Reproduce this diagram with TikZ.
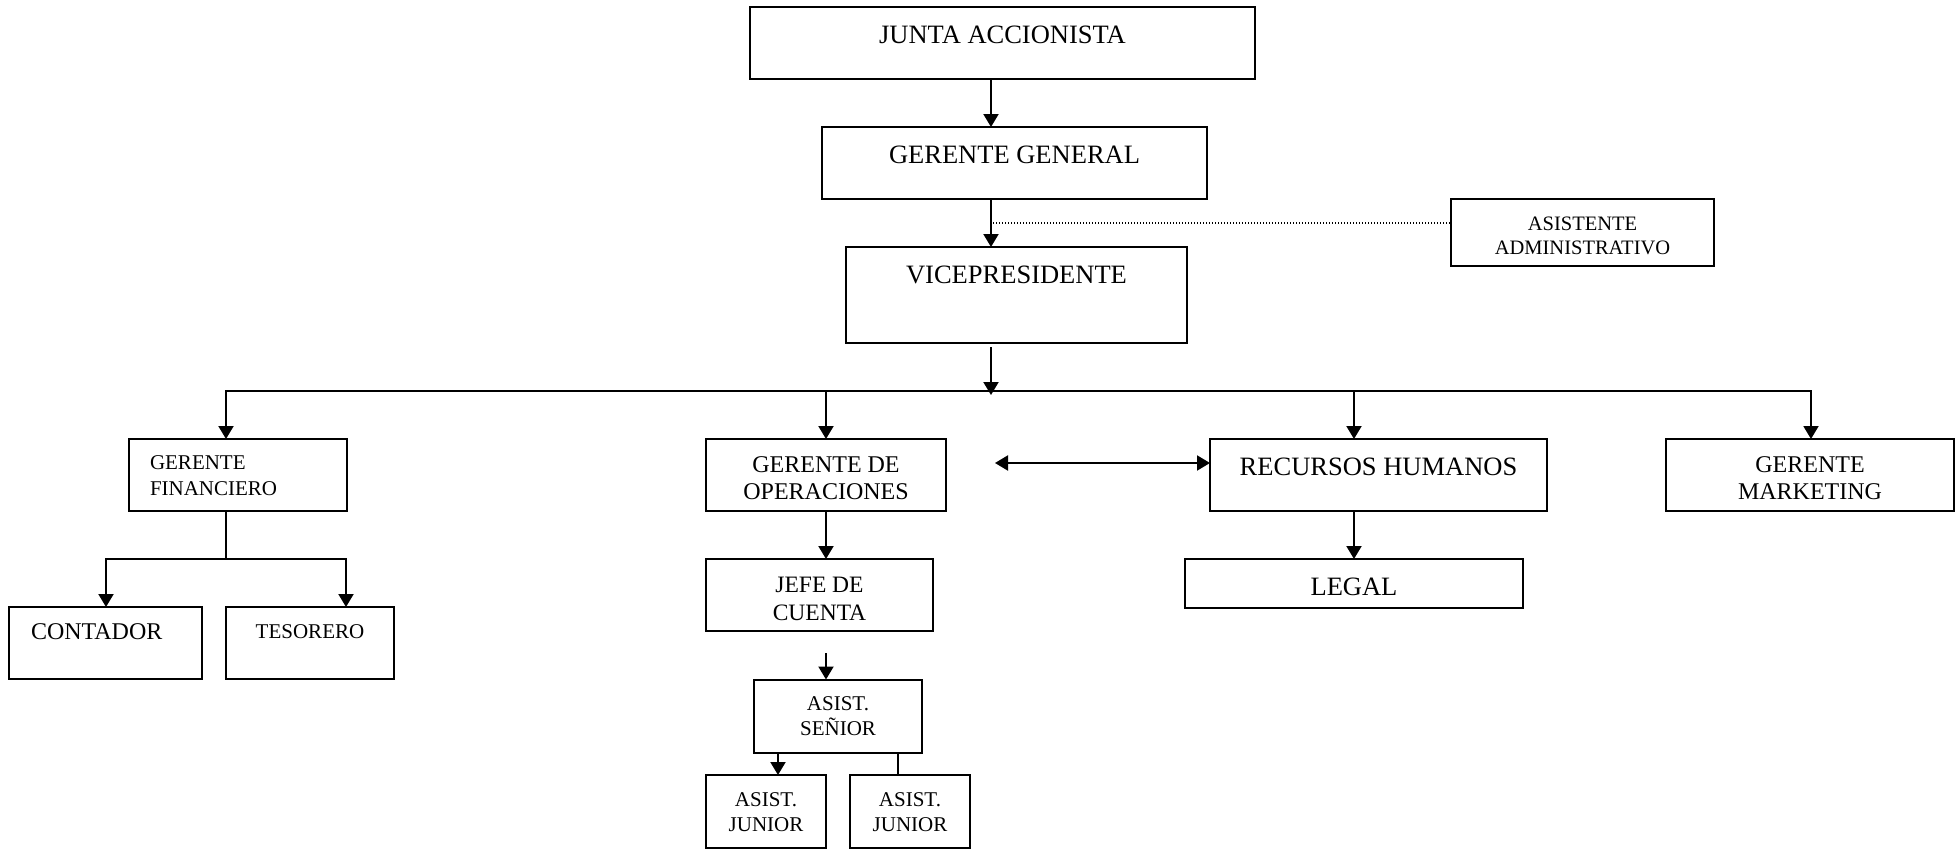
\documentclass[tikz,border=0pt]{standalone}
\usepackage{fontspec}
\setmainfont{Liberation Serif}
\usetikzlibrary{arrows.meta}

\tikzset{
  box/.style={draw, line width=2pt, inner sep=0pt, outer sep=0pt},
  lbl/.style={inner sep=0pt, outer sep=0pt, anchor=base, align=center},
  big/.style={font=\fontsize{26.5}{30}\selectfont},
  mid/.style={font=\fontsize{24}{26.6}\selectfont},
  small/.style={font=\fontsize{21}{25}\selectfont},
  link/.style={line width=2pt},
  arr/.style={link, -{Triangle[width=15pt,length=13pt]}},
  arrboth/.style={link, {Triangle[width=15pt,length=13pt]}-{Triangle[width=15pt,length=13pt]}},
  dotline/.style={line width=1.3pt, dash pattern=on 1.4pt off 1.6pt},
}

\begin{document}
\begin{tikzpicture}[x=1pt, y=-1pt]
\useasboundingbox (0,0) rectangle (1955,849);

% boxes
\node[box, minimum width=505, minimum height=72] (ja) at (1002.5,43) {};
\node[box, minimum width=385, minimum height=72] (gg) at (1014.5,163) {};
\node[box, minimum width=341, minimum height=96] (vp) at (1016.5,295) {};
\node[box, minimum width=263, minimum height=67] (aa) at (1582.5,232.5) {};
\node[box, minimum width=218, minimum height=72] (gf) at (238,475) {};
\node[box, minimum width=193, minimum height=72] (cont) at (105.5,643) {};
\node[box, minimum width=168, minimum height=72] (tes) at (310,643) {};
\node[box, minimum width=240, minimum height=72] (gdo) at (826,475) {};
\node[box, minimum width=227, minimum height=72] (jefe) at (819.5,595) {};
\node[box, minimum width=168, minimum height=73] (as) at (838,716) {};
\node[box, minimum width=120, minimum height=73] (aj1) at (766,811.5) {};
\node[box, minimum width=120, minimum height=73] (aj2) at (910,811.5) {};
\node[box, minimum width=337, minimum height=72] (rh) at (1378.5,475) {};
\node[box, minimum width=338, minimum height=49] (legal) at (1354,583.5) {};
\node[box, minimum width=288, minimum height=72] (gm) at (1810,475) {};

% labels (multi-line labels are anchored on their last baseline)
\node[lbl, big] (ja-t) at (1002.5,43.3) {JUNTA ACCIONISTA};
\node[lbl, big] (gg-t) at (1014.5,163.3) {GERENTE GENERAL};
\node[lbl, big] (vp-t) at (1016.5,283.3) {VICEPRESIDENTE};
\node[lbl, small, font=\fontsize{20.5}{24}\selectfont] (aa-t) at (1582.5,254) {ASISTENTE\\ADMINISTRATIVO};
\node[lbl, small, anchor=base west, align=left, font=\fontsize{21}{25.7}\selectfont] (gf-t) at (150,495) {GERENTE\\FINANCIERO};
\node[lbl, mid, anchor=base west] (cont-t) at (31,639.3) {CONTADOR};
\node[lbl, small] (tes-t) at (310,638.3) {TESORERO};
\node[lbl, mid] (gdo-t) at (826,499.3) {GERENTE DE\\OPERACIONES};
\node[lbl, mid, font=\fontsize{23.5}{27.3}\selectfont] (jefe-t) at (819.5,620) {JEFE DE\\CUENTA};
\node[lbl, small] (as-t) at (838,735) {ASIST.\\SEÑIOR};
\node[lbl, small] (aj1-t) at (766,831.7) {ASIST.\\JUNIOR};
\node[lbl, small] (aj2-t) at (910,831.7) {ASIST.\\JUNIOR};
\node[lbl, big] (rh-t) at (1378.5,475) {RECURSOS HUMANOS};
\node[lbl, big] (legal-t) at (1354,595) {LEGAL};
\node[lbl, mid] (gm-t) at (1810,499.3) {GERENTE\\MARKETING};

% routing points
\coordinate (spine) at (991,0);
\coordinate (bus) at (0,391);
\coordinate (dgf) at (226,391);
\coordinate (dgo) at (826,391);
\coordinate (drh) at (1354,391);
\coordinate (dgm) at (1811,391);
\coordinate (fsplit) at (226,559);
\coordinate (fc) at (106,559);
\coordinate (ft) at (346,559);
\coordinate (dotstart) at (993,223);
\coordinate (jstub) at (826,653);
\coordinate (sj1) at (778,0);
\coordinate (sj2) at (898,0);
\coordinate (hrfree) at (995,463);

% main chain
\draw[arr] (ja.south -| spine) -- (gg.north -| spine);
\draw[arr] (gg.south -| spine) -- (vp.north -| spine);
\draw[dotline] (dotstart) -- (dotstart -| aa.west);
\draw[arr] ([yshift=-4pt]vp.south -| spine) -- ([yshift=-4pt]spine |- bus);

% distribution bus
\draw[arr] (dgo) -- (dgf) -- (dgf |- gf.north);
\draw[arr] (dgo) -- (dgm) -- (dgm |- gm.north);
\draw[arr] (dgo) -- (dgo |- gdo.north);
\draw[arr] (drh) -- (drh |- rh.north);

% finance branch
\draw[link] (gf.south -| fsplit) -- (fsplit);
\draw[arr] (fsplit) -- (fc) -- (fc |- cont.north);
\draw[arr] (fsplit) -- (ft) -- (ft |- tes.north);

% operations branch
\draw[arr] (gdo.south) -- (gdo.south |- jefe.north);
\draw[arr] (jstub) -- (jstub |- as.north);
\draw[arr] (as.south -| sj1) -- (aj1.north -| sj1);
\draw[link] (as.south -| sj2) -- (aj2.north -| sj2);
\draw[arrboth] (hrfree) -- (hrfree -| rh.west);

% human resources branch
\draw[arr] (legal.north |- rh.south) -- (legal.north);
\end{tikzpicture}
\end{document}
